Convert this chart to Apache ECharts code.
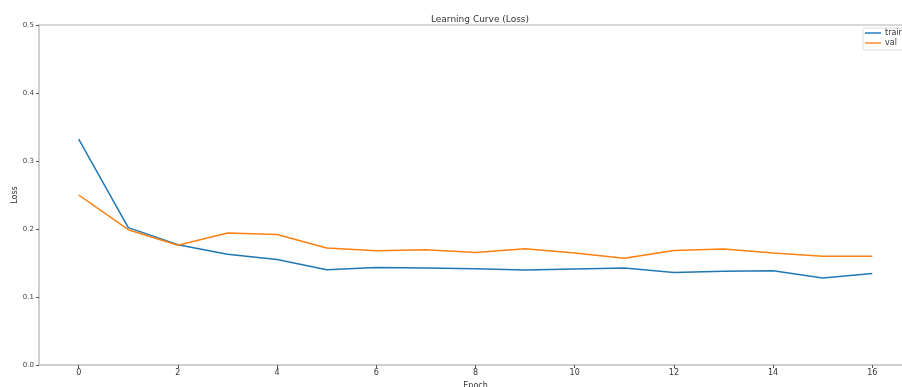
<!DOCTYPE html>
<html>
<head>
<meta charset="utf-8">
<script src="https://cdn.jsdelivr.net/npm/echarts@6/dist/echarts.min.js"></script>
<style>html,body{margin:0;padding:0;background:#fff;overflow:hidden}#c{width:902px;height:387px}</style>
</head>
<body>
<div id="c"></div>
<script>
const epochs = [0,1,2,3,4,5,6,7,8,9,10,11,12,13,14,15,16];
const trainLoss = [0.332,0.202,0.177,0.163,0.155,0.140,0.1435,0.1426,0.1416,0.1397,0.141,0.1426,0.136,0.1377,0.1387,0.128,0.1347];
const valLoss = [0.250,0.199,0.176,0.194,0.192,0.172,0.168,0.1696,0.1656,0.171,0.1647,0.157,0.1685,0.1706,0.1647,0.160,0.160];
const xTicks = [0,2,4,6,8,10,12,14,16];

const font = 'DejaVu Sans';
const chart = echarts.init(document.getElementById('c'));
chart.setOption({
  animation: false,
  title: {
    text: 'Learning Curve (Loss)',
    left: 475, top: 10, textAlign: 'center',
    textStyle: {fontFamily: font, fontSize: 9, fontWeight: 'normal', color: '#333'}
  },
  legend: {
    left: 863, top: 28, orient: 'vertical',
    padding: [1, 30, 3, 2], itemGap: 2,
    itemWidth: 16, itemHeight: 2, icon: 'rect',
    borderColor: '#ddd', borderWidth: 1, borderRadius: 2,
    textStyle: {fontFamily: font, fontSize: 8, color: '#333', padding: [0,0,0,-1]},
    data: ['train', 'val']
  },
  grid: {left: 39, top: 25, width: 873, height: 340, containLabel: false, outerBoundsMode: 'none',
         show: true, borderColor: '#ccc', borderWidth: 1.5},
  xAxis: {
    type: 'value', min: -0.8, max: 16.8,
    name: 'Epoch', nameLocation: 'middle', nameGap: 14,
    nameTextStyle: {fontFamily: font, fontSize: 8, color: '#333'},
    axisLine: {show: true, onZero: false, lineStyle: {color: '#ccc', width: 1.5}},
    axisTick: {show: true, customValues: xTicks, length: 3, lineStyle: {color: '#555'}},
    axisLabel: {customValues: xTicks, fontFamily: font, fontSize: 8, color: '#333', margin: 4},
    splitLine: {show: false}
  },
  yAxis: {
    type: 'value', min: 0, max: 0.5, interval: 0.1,
    name: 'Loss', nameLocation: 'middle', nameGap: 20, nameMoveOverlap: false,
    nameTextStyle: {fontFamily: font, fontSize: 8, color: '#333'},
    axisLine: {show: true, onZero: false, lineStyle: {color: '#ccc', width: 1.5}},
    axisTick: {show: true, length: 3, lineStyle: {color: '#555'}},
    axisLabel: {fontFamily: font, fontSize: 7, color: '#444', margin: 5, formatter: v => v.toFixed(1)},
    splitLine: {show: false}
  },
  series: [
    {name: 'train', type: 'line', data: epochs.map((e,i)=>[e, trainLoss[i]]), showSymbol: false, symbol: 'none',
     lineStyle: {color: '#1f77b4', width: 1.5}, itemStyle: {color: '#5a9fd4'}},
    {name: 'val', type: 'line', data: epochs.map((e,i)=>[e, valLoss[i]]), showSymbol: false, symbol: 'none',
     lineStyle: {color: '#ff7f0e', width: 1.5}, itemStyle: {color: '#ffa860'}}
  ]
});
</script>
</body>
</html>
